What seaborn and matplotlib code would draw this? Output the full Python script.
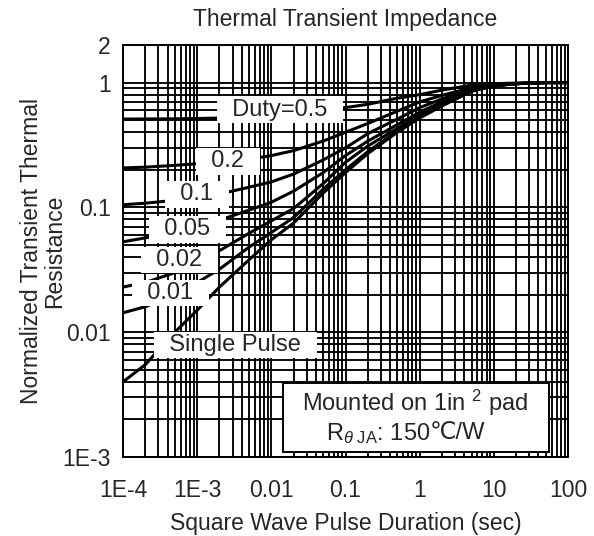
import numpy as np
import pandas as pd
import seaborn as sns
import matplotlib.pyplot as plt
from matplotlib.patches import Rectangle
from matplotlib.ticker import LogLocator, FixedLocator, FixedFormatter, NullFormatter

# pulse durations (sec) where the curves were read
pulse_time = [1e-4, 2e-4, 5e-4, 1e-3, 2e-3, 5e-3, 1e-2, 2e-2, 5e-2,
              0.1, 0.2, 0.5, 1, 2, 5, 10, 20, 50, 100]

# normalized transient thermal resistance, one list per duty cycle
duty_05 = [0.51, 0.511, 0.512, 0.515, 0.52, 0.53, 0.54, 0.56, 0.60,
           0.63, 0.67, 0.75, 0.80, 0.87, 0.955, 0.98, 0.99, 1.0, 1.0]
duty_02 = [0.207, 0.21, 0.217, 0.224, 0.233, 0.243, 0.26, 0.285, 0.34,
           0.40, 0.47, 0.59, 0.70, 0.79, 0.91, 0.96, 0.985, 1.0, 1.0]
duty_01 = [0.105, 0.108, 0.114, 0.12, 0.128, 0.145, 0.16, 0.185, 0.24,
           0.30, 0.39, 0.51, 0.63, 0.74, 0.89, 0.955, 0.98, 1.0, 1.0]
duty_005 = [0.053, 0.057, 0.064, 0.071, 0.079, 0.095, 0.11, 0.135, 0.19,
            0.26, 0.34, 0.46, 0.58, 0.70, 0.87, 0.95, 0.98, 1.0, 1.0]
duty_002 = [0.023, 0.025, 0.030, 0.036, 0.045, 0.062, 0.078, 0.098, 0.155,
            0.23, 0.31, 0.43, 0.55, 0.67, 0.86, 0.945, 0.98, 1.0, 1.0]
duty_001 = [0.0143, 0.016, 0.020, 0.025, 0.032, 0.048, 0.063, 0.083, 0.14,
            0.20, 0.28, 0.41, 0.53, 0.66, 0.86, 0.94, 0.98, 1.0, 1.0]
single_pulse = [0.004, 0.0055, 0.010, 0.015, 0.023, 0.038, 0.055, 0.075, 0.13,
                0.19, 0.27, 0.40, 0.52, 0.65, 0.85, 0.94, 0.98, 1.0, 1.0]

curves = {
    "0.5": duty_05, "0.2": duty_02, "0.1": duty_01, "0.05": duty_005,
    "0.02": duty_002, "0.01": duty_001, "single": single_pulse,
}

x_ticks = [1e-4, 1e-3, 1e-2, 0.1, 1, 10, 100]
x_tick_labels = ["1E-4", "1E-3", "0.01", "0.1", "1", "10", "100"]
y_ticks = [1e-3, 1e-2, 0.1, 1, 2]
y_tick_labels = ["1E-3", "0.01", "0.1", "1", "2"]

rows = []
for name, vals in curves.items():
    for t, z in zip(pulse_time, vals):
        rows.append({"duty": name, "t": t, "z": z})
df = pd.DataFrame(rows)

sns.set_theme(style="white")
plt.rcParams["font.family"] = ["Liberation Sans", "DejaVu Sans"]
plt.rcParams["mathtext.fontset"] = "custom"
plt.rcParams["mathtext.rm"] = "Liberation Sans"
plt.rcParams["mathtext.it"] = "Liberation Sans:italic"

fig = plt.figure(figsize=(5.94, 5.36), dpi=100)
ax = fig.add_axes([123 / 594, 79 / 536, 445 / 594, 412 / 536])

sns.lineplot(data=df, x="t", y="z", units="duty", estimator=None,
             color="black", linewidth=2.2, sort=True, ax=ax, zorder=3)

ax.set_xscale("log")
ax.set_yscale("log")
ax.set_xlim(1e-4, 100)
ax.set_ylim(1e-3, 2)

ax.xaxis.set_major_locator(FixedLocator(x_ticks))
ax.xaxis.set_major_formatter(FixedFormatter(x_tick_labels))
ax.xaxis.set_minor_locator(LogLocator(base=10, subs=np.arange(2, 10)))
ax.xaxis.set_minor_formatter(NullFormatter())
ax.yaxis.set_major_locator(FixedLocator(y_ticks))
ax.yaxis.set_major_formatter(FixedFormatter(y_tick_labels))
ax.yaxis.set_minor_locator(LogLocator(base=10, subs=np.arange(2, 10)))
ax.yaxis.set_minor_formatter(NullFormatter())

ax.grid(True, which="both", color="black", linewidth=1.35)
ax.tick_params(which="both", length=0)
ax.tick_params(axis="x", labelsize=16.5, pad=16)
ax.tick_params(axis="y", labelsize=16.5, pad=9)
for s in ax.spines.values():
    s.set_color("black")
    s.set_linewidth(1.4)

ax.set_title("Thermal Transient Impedance", fontsize=16.5, pad=14)
ax.set_xlabel("Square Wave Pulse Duration (sec)", fontsize=16.5, labelpad=7)
ax.set_ylabel("Normalized Transient Thermal\nResistance", fontsize=16.5,
              linespacing=1.0)
ax.yaxis.set_label_coords(-0.128, 0.5)

# white label boxes over the curves
box = dict(facecolor="white", edgecolor="none", boxstyle="square,pad=0.1")
labels = [
    ("  Duty=0.5  ", 0.353, 0.843),
    ("  0.2  ", 0.236, 0.718),
    ("  0.1  ", 0.166, 0.638),
    ("  0.05  ", 0.144, 0.553),
    ("  0.02  ", 0.126, 0.478),
    ("  0.01  ", 0.106, 0.398),
    ("  Single Pulse  ", 0.252, 0.272),
]
for txt, fx, fy in labels:
    ax.text(fx, fy, txt, transform=ax.transAxes, fontsize=17,
            ha="center", va="center", bbox=box, zorder=5)

# mounting note
ax.add_patch(Rectangle((0.36, 0.012), 0.597, 0.168, transform=ax.transAxes,
                       facecolor="white", edgecolor="black", linewidth=1.4,
                       zorder=5))
ax.text(0.656, 0.131, "Mounted on 1in $^{2}$ pad", transform=ax.transAxes,
        fontsize=17, ha="center", va="center", zorder=6)
ax.text(0.69, 0.058, r"R$_{\theta\ \mathrm{JA}}$: 150", transform=ax.transAxes,
        fontsize=17, ha="right", va="center", zorder=6)
ax.text(0.69, 0.058, "\u2103/W", transform=ax.transAxes,
        fontsize=17, ha="left", va="center", zorder=6)

fig.savefig("out.png", dpi=100)
